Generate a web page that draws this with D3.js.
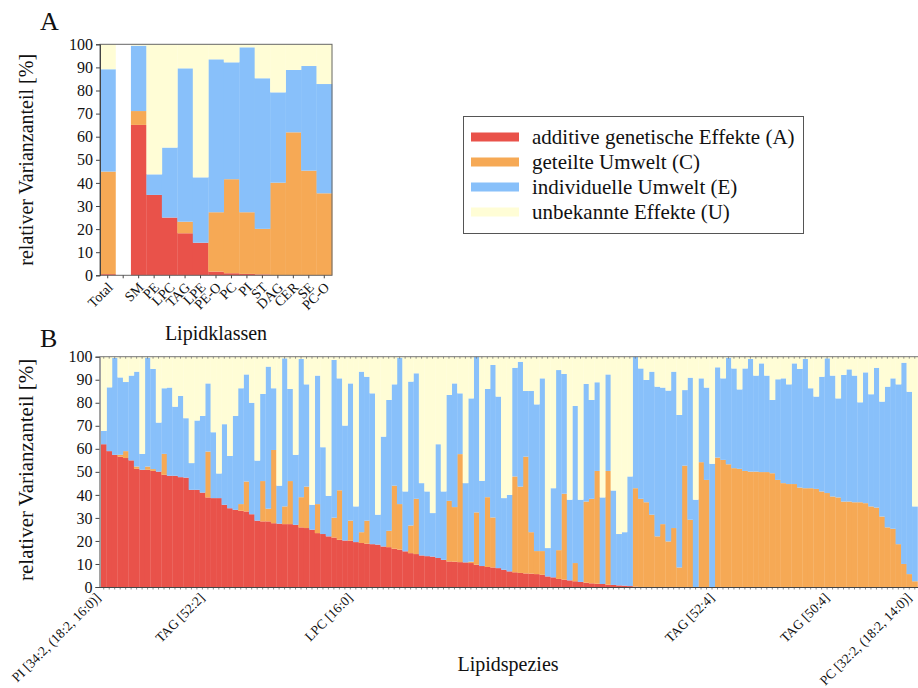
<!DOCTYPE html>
<html>
<head>
<meta charset="utf-8">
<script src="https://cdn.jsdelivr.net/npm/d3@7"></script>
<style>
  body { margin: 0; background: #fff; }
  svg { display: block; font-family: "Liberation Serif", "Times New Roman", serif; }
</style>
</head>
<body>
<svg id="chart" width="918" height="688"></svg>
<script>
// ---- Panel A: variance components per lipid class (percent) ----
const classNames = ["Total", "", "SM", "PE", "LPC", "TAG", "LPE", "PE-O", "PC", "PI", "ST", "DAG", "CER", "SE", "PC-O"];
const classA = [0.5, 0, 65.1, 34.8, 25.0, 18.2, 14.1, 1.6, 0.9, 0.6, 0.4, 0, 0, 0, 0];
const classC = [44.4, 0, 6.0, 0, 0, 5.0, 0, 25.7, 40.7, 26.7, 19.7, 40.1, 61.9, 45.3, 35.5];
const classE = [44.3, 0, 28.3, 8.9, 30.3, 66.4, 28.3, 66.2, 50.6, 71.4, 65.2, 39.1, 27.0, 45.3, 47.3];

// ---- Panel B: variance components per lipid species (percent) ----
const speciesA = [
  62.0, 59.0, 57.4, 56.6, 56.0, 55.0, 51.3, 50.9, 50.9, 50.4,
  50.1, 48.7, 48.3, 48.3, 47.7, 47.5, 42.2, 42.2, 41.0, 38.9,
  38.6, 38.6, 35.7, 34.2, 33.5, 33.1, 32.8, 31.6, 28.8, 28.5,
  28.5, 27.7, 27.5, 27.3, 27.3, 27.0, 25.9, 25.6, 24.9, 23.4,
  23.0, 22.0, 21.5, 20.5, 20.2, 20.1, 19.5, 19.1, 18.8, 18.6,
  18.4, 17.6, 17.3, 16.6, 16.2, 15.5, 14.7, 14.3, 13.7, 13.4,
  13.2, 12.6, 11.8, 11.1, 11.0, 10.8, 10.7, 10.4, 9.7, 9.1,
  8.7, 8.5, 8.2, 7.5, 6.8, 6.4, 6.1, 5.9, 5.8, 5.6,
  5.3, 4.6, 4.2, 3.5, 3.2, 2.9, 2.5, 2.2, 1.9, 1.6,
  1.4, 1.3, 1.0, 0.9, 0.7, 0.6, 0.4, 0.2, 0, 0,
  0, 0, 0, 0, 0, 0, 0, 0, 0, 0,
  0, 0, 0, 0, 0, 0, 0, 0, 0, 0,
  0, 0, 0, 0, 0, 0, 0, 0, 0, 0,
  0, 0, 0, 0, 0, 0, 0, 0, 0, 0,
  0, 0, 0, 0, 0, 0, 0, 0, 0
];
const speciesC = [
  0, 0, 0, 0.8, 3.0, 0, 1.0, 0, 1.4, 0.8,
  0, 9.1, 0, 0, 0, 0, 0, 0, 0, 19.9,
  0, 0, 0, 0, 0, 2.9, 13.0, 0, 0, 17.5,
  5.5, 31.8, 0, 7.7, 18.7, 0, 13.1, 18.0, 0, 12.6,
  0, 0, 8.6, 21.5, 0, 8.7, 0, 4.7, 10.0, 0,
  0, 0, 7.1, 27.4, 19.8, 0, 12.0, 24.0, 0, 0,
  0, 0, 0, 26.3, 23.7, 46.9, 0, 0.6, 22.7, 0,
  30.3, 21.7, 0, 0, 0, 41.6, 37.5, 50.7, 18.0, 10.0,
  10.3, 0, 0, 12.5, 37.3, 0, 7.9, 0, 35.2, 36.7,
  49.0, 0, 49.4, 0, 0, 0, 0, 42.7, 38.3, 36.8,
  31.4, 22.0, 27.3, 19.8, 25.6, 8.5, 52.7, 29.2, 0, 54.2,
  46.5, 0, 56.2, 55.2, 53.3, 51.6, 51.3, 50.4, 50.1, 50.1,
  49.9, 49.9, 49.4, 46.5, 45.1, 44.7, 44.7, 43.2, 42.9, 42.9,
  42.6, 41.5, 40.8, 39.3, 38.9, 37.1, 37.1, 36.8, 36.8, 36.4,
  35.0, 34.5, 30.6, 25.9, 25.3, 18.6, 10.0, 5.6, 2.5
];
const speciesE = [
  5.8, 27.7, 42.1, 33.6, 30.0, 36.8, 41.2, 6.9, 47.3, 43.5,
  21.3, 28.5, 38.3, 30.0, 35.3, 25.8, 11.6, 30.1, 33.3, 29.6,
  28.6, 10.7, 35.0, 22.7, 40.8, 50.3, 46.5, 48.4, 26.1, 37.8,
  61.7, 26.8, 16.5, 64.3, 40.0, 30.4, 60.0, 44.4, 10.8, 55.8,
  37.7, 17.6, 68.5, 48.6, 49.9, 59.6, 15.5, 69.7, 62.5, 65.5,
  13.0, 47.7, 56.8, 44.0, 63.6, 26.0, 62.5, 54.5, 31.4, 28.1,
  18.9, 49.4, 29.7, 46.0, 53.7, 26.4, 34.4, 70.9, 67.6, 37.0,
  47.0, 66.2, 74.5, 31.1, 33.2, 47.2, 54.2, 28.5, 61.3, 63.7,
  75.0, 12.3, 38.7, 78.2, 52.0, 35.0, 68.2, 35.7, 51.1, 42.9,
  38.5, 37.6, 41.9, 41.0, 22.3, 23.2, 47.6, 57.1, 56.6, 53.1,
  62.1, 65.0, 59.3, 65.5, 67.9, 66.2, 32.8, 61.7, 37.9, 36.4,
  40.1, 53.5, 39.2, 35.4, 46.3, 43.3, 34.5, 44.5, 48.9, 41.7,
  47.2, 41.9, 31.8, 43.7, 45.5, 43.3, 52.4, 51.5, 56.1, 43.4,
  40.1, 49.8, 58.5, 52.5, 43.0, 55.0, 57.4, 55.0, 43.4, 56.8,
  48.7, 60.7, 49.9, 61.1, 65.3, 69.4, 87.4, 79.2, 32.5
];
const speciesTickIndex = [0, 19, 46, 112, 133, 148];
const speciesTickLabels = ["PI [34:2, (18:2, 16:0)]", "TAG [52:2]", "LPC [16:0]", "TAG [52:4]", "TAG [50:4]", "PC [32:2, (18:2, 14:0)]"];

// ---- Legend ----
const componentKeys = ["A", "C", "E", "U"];
const componentLabels = ["additive genetische Effekte (A)", "geteilte Umwelt (C)", "individuelle Umwelt (E)", "unbekannte Effekte (U)"];
const componentColors = ["#e9524a", "#f6a955", "#88c0fa", "#fffdd6"];

const color = d3.scaleOrdinal().domain(componentKeys).range(componentColors);
const svg = d3.select("#chart");
const axisColor = "#444";

function buildRows(names, a, c, e) {
  return names.map((n, i) => ({
    name: n, A: a[i], C: c[i], E: e[i],
    U: Math.max(0, 100 - a[i] - c[i] - e[i])
  }));
}

function drawStack(g, rows, x, y) {
  const series = d3.stack().keys(componentKeys)(rows);
  g.selectAll("g.layer").data(series).join("g")
    .attr("class", "layer")
    .attr("fill", d => color(d.key))
    .selectAll("rect")
    .data(d => d.filter(s => s.data.name !== ""))
    .join("rect")
    .attr("x", d => x(d.data.name))
    .attr("width", x.bandwidth() + 0.3)
    .attr("y", d => y(d[1]))
    .attr("height", d => Math.max(0, y(d[0]) - y(d[1])));
}

function styleAxis(g) {
  g.selectAll("path.domain").attr("stroke", axisColor);
  g.selectAll(".tick line").attr("stroke", axisColor);
  g.selectAll("text").attr("fill", "#111").attr("font-family", "Liberation Serif, serif");
}

// ================= Panel A =================
const plotA = { left: 100, right: 332, top: 44.3, bottom: 275.3 };
const xA = d3.scaleBand().domain(classNames).range([plotA.left, plotA.right]);
const yA = d3.scaleLinear().domain([0, 100]).range([plotA.bottom, plotA.top]);

drawStack(svg.append("g"), buildRows(classNames, classA, classC, classE), xA, yA);

svg.append("rect")
  .attr("x", plotA.left).attr("y", plotA.top)
  .attr("width", plotA.right - plotA.left).attr("height", plotA.bottom - plotA.top)
  .attr("fill", "none").attr("stroke", "#666").attr("stroke-width", 1);

svg.append("g")
  .attr("transform", `translate(${plotA.left},0)`)
  .call(d3.axisLeft(yA).tickValues(d3.range(0, 101, 10)).tickSize(4).tickPadding(3))
  .call(styleAxis)
  .selectAll("text").attr("font-size", 16);

const axA = svg.append("g")
  .attr("transform", `translate(0,${plotA.bottom})`)
  .call(d3.axisBottom(xA).tickSize(3).tickFormat(""))
  .call(styleAxis);
axA.select("path.domain").remove();

svg.append("g").selectAll("text")
  .data(classNames.filter(n => n !== ""))
  .join("text")
  .attr("transform", d => `translate(${xA(d) + xA.bandwidth() / 2 - 1},${plotA.bottom + 6}) rotate(-45)`)
  .attr("text-anchor", "end")
  .attr("dy", "0.7em")
  .attr("font-size", 14)
  .attr("fill", "#111")
  .text(d => d);

svg.append("text")
  .attr("x", 40).attr("y", 30)
  .attr("font-size", 26).attr("fill", "#111")
  .text("A");

svg.append("text")
  .attr("transform", `translate(33,${(plotA.top + plotA.bottom) / 2}) rotate(-90)`)
  .attr("text-anchor", "middle")
  .attr("font-size", 20).attr("fill", "#111")
  .text("relativer Varianzanteil [%]");

svg.append("text")
  .attr("x", 216).attr("y", 340)
  .attr("text-anchor", "middle")
  .attr("font-size", 20).attr("fill", "#111")
  .text("Lipidklassen");

// ================= Legend =================
const legend = svg.append("g");
legend.append("rect")
  .attr("x", 463.5).attr("y", 116.5).attr("width", 340).attr("height", 117)
  .attr("fill", "#fff").attr("stroke", "#555").attr("stroke-width", 1);
const items = legend.selectAll("g.item").data(componentKeys).join("g")
  .attr("class", "item")
  .attr("transform", (d, i) => `translate(0,${137 + i * 25})`);
items.append("rect")
  .attr("x", 471).attr("y", -4.5).attr("width", 48).attr("height", 9)
  .attr("fill", d => color(d));
items.append("text")
  .attr("x", 532).attr("y", 0).attr("dy", "0.35em")
  .attr("font-size", 21).attr("fill", "#111")
  .text((d, i) => componentLabels[i]);

// ================= Panel B =================
const N = speciesA.length;
const plotB = { left: 99.5, top: 356.7, bottom: 587, x0: 101, step: 5.48 };
const speciesIds = d3.range(N).map(String);
const xB = d3.scaleBand().domain(speciesIds).range([plotB.x0, plotB.x0 + N * plotB.step]);
const yB = d3.scaleLinear().domain([0, 100]).range([plotB.bottom, plotB.top]);

drawStack(svg.append("g"), buildRows(speciesIds, speciesA, speciesC, speciesE), xB, yB);

// top border with small inward ticks
const rightEdge = 930;
svg.append("line")
  .attr("x1", plotB.left).attr("x2", rightEdge)
  .attr("y1", plotB.top).attr("y2", plotB.top)
  .attr("stroke", "#777").attr("stroke-width", 1);
svg.append("g").selectAll("line").data(speciesIds).join("line")
  .attr("x1", d => xB(d) + xB.bandwidth() / 2).attr("x2", d => xB(d) + xB.bandwidth() / 2)
  .attr("y1", plotB.top).attr("y2", plotB.top + 2)
  .attr("stroke", "#777").attr("stroke-width", 0.8);

svg.append("g")
  .attr("transform", `translate(${plotB.left},0)`)
  .call(d3.axisLeft(yB).tickValues(d3.range(0, 101, 10)).tickSize(4).tickPadding(3))
  .call(styleAxis)
  .selectAll("text").attr("font-size", 16);

const axB = svg.append("g")
  .attr("transform", `translate(0,${plotB.bottom})`)
  .call(d3.axisBottom(xB).tickSize(2.5).tickFormat(""))
  .call(styleAxis);
axB.select("path.domain").remove();
axB.selectAll(".tick line").attr("stroke", "#888");
svg.append("line")
  .attr("x1", plotB.left).attr("x2", rightEdge)
  .attr("y1", plotB.bottom + 0.5).attr("y2", plotB.bottom + 0.5)
  .attr("stroke", axisColor).attr("stroke-width", 1);

svg.append("g").selectAll("text")
  .data(speciesTickIndex)
  .join("text")
  .attr("transform", d => `translate(${xB(String(d)) + xB.bandwidth() / 2 - 9},${plotB.bottom + 5}) rotate(-45)`)
  .attr("text-anchor", "end")
  .attr("dy", "0.7em")
  .attr("font-size", 13.5)
  .attr("fill", "#111")
  .text((d, i) => speciesTickLabels[i]);

svg.append("text")
  .attr("x", 40).attr("y", 347)
  .attr("font-size", 26).attr("fill", "#111")
  .text("B");

svg.append("text")
  .attr("transform", `translate(33,${(plotB.top + plotB.bottom) / 2 - 2}) rotate(-90)`)
  .attr("text-anchor", "middle")
  .attr("font-size", 21).attr("fill", "#111")
  .text("relativer Varianzanteil [%]");

svg.append("text")
  .attr("x", 508).attr("y", 671)
  .attr("text-anchor", "middle")
  .attr("font-size", 20).attr("fill", "#111")
  .text("Lipidspezies");
</script>
</body>
</html>
